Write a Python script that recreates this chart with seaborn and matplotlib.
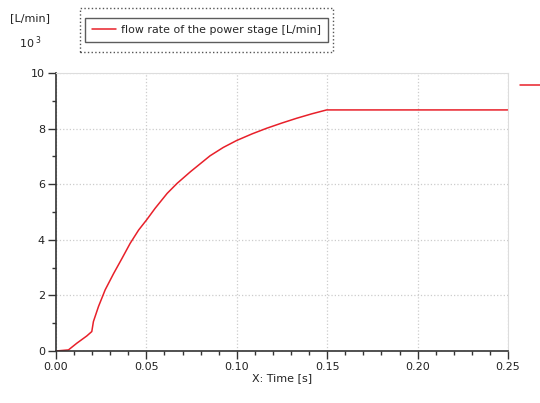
import matplotlib
matplotlib.use("Agg")
import matplotlib.pyplot as plt
import seaborn as sns
import pandas as pd
from matplotlib.patches import Rectangle
from matplotlib.lines import Line2D
from matplotlib.ticker import MultipleLocator

time_s = [0.0, 0.0069, 0.0115, 0.017, 0.0198, 0.0207, 0.0235, 0.0272, 0.0319,
          0.0365, 0.041, 0.0457, 0.0504, 0.0548, 0.0615, 0.067, 0.0744, 0.0852,
          0.0925, 0.0999, 0.1085, 0.1165, 0.1250, 0.1331, 0.1415, 0.1497, 0.25]
flow_k = [0.0, 0.04, 0.28, 0.54, 0.7, 1.06, 1.6, 2.2, 2.79,
          3.33, 3.87, 4.35, 4.74, 5.13, 5.67, 6.03, 6.45, 7.02,
          7.32, 7.57, 7.81, 8.01, 8.2, 8.37, 8.53, 8.67, 8.67]
series_name = "flow rate of the power stage [L/min]"

df = pd.DataFrame({"t": time_s, "q": flow_k})

sns.set_theme(style="white")
plt.rcParams['font.family'] = ['DejaVu Sans']

fig = plt.figure(figsize=(5.4, 4.03), dpi=100)
ax = fig.add_axes([0.1037, 0.129, 0.837, 0.690])
sns.lineplot(data=df, x="t", y="q", ax=ax, color="#e8202a", linewidth=1.1, label=series_name)

ax.set_xlim(0, 0.25)
ax.set_ylim(0, 10)
ax.xaxis.set_major_locator(MultipleLocator(0.05))
ax.xaxis.set_minor_locator(MultipleLocator(0.01))
ax.yaxis.set_major_locator(MultipleLocator(2))
ax.yaxis.set_minor_locator(MultipleLocator(1))
ax.set_xticklabels([f"{v:.2f}" for v in ax.get_xticks()])
ax.tick_params(axis="both", which="major", direction="out", length=6, width=1, color="#333333",
               labelsize=8, labelcolor="#222222", pad=2, left=True, bottom=True)
ax.tick_params(axis="both", which="minor", direction="out", length=3, width=1, color="#333333",
               left=True, bottom=True)
ax.grid(True, which="major", color="#cccccc", linestyle=":", linewidth=0.9)
for s in ["top", "right"]:
    ax.spines[s].set_color("#dddddd")
    ax.spines[s].set_linewidth(0.8)
for s in ["left", "bottom"]:
    ax.spines[s].set_color("#333333")
    ax.spines[s].set_linewidth(1.2)
ax.set_xlabel("X: Time [s]", fontsize=8, color="#222222", labelpad=1)
ax.set_ylabel("")

leg = ax.legend(loc="center", bbox_to_anchor=(0.3825, 0.9255), bbox_transform=fig.transFigure,
                fontsize=7.9, frameon=True, fancybox=False, handlelength=2.2,
                borderpad=0.65, handletextpad=0.45, borderaxespad=0)
leg.get_frame().set_edgecolor("#333333")
leg.get_frame().set_linewidth(1.0)

fig.patches.append(Rectangle((0.148, 0.872), 0.469, 0.108, transform=fig.transFigure,
                             fill=False, linestyle=":", linewidth=1.0, edgecolor="#555555"))

fig.text(0.018, 0.955, "[L/min]", fontsize=8, color="#222222", ha="left", va="center")
fig.text(0.035, 0.895, r"10$^{\ 3}$", fontsize=8, color="#222222", ha="left", va="center")

fig.lines.append(Line2D([0.963, 1.0], [0.789, 0.789], transform=fig.transFigure,
                        color="#e8202a", linewidth=1.1))

fig.savefig("out.png", dpi=100)
